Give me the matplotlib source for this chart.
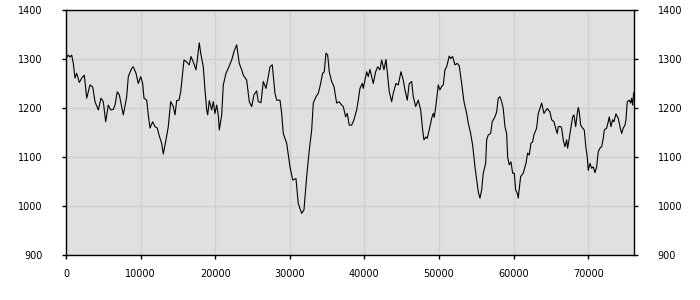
import matplotlib
matplotlib.use("Agg")
import matplotlib.pyplot as plt

x_vals = [0, 310, 536, 764, 980, 1206, 1434, 1783, 2104, 2453, 2775, 3217, 3579, 3887, 4330, 4692,
          5000, 5322, 5670, 5992, 6340, 6568, 6877, 7145, 7681, 8137, 8352, 8807, 9022, 9384, 9692,
          10014, 10282, 10456, 10818, 11032, 11260, 11622, 11930, 12238, 12506, 12828, 13043, 13405,
          13713, 14035, 14384, 14612, 14840, 15148, 15376, 15818, 16180, 16528, 16756, 17064, 17427,
          17601, 17869, 18057, 18405, 18633, 18861, 18995, 19210, 19531, 19746, 19974, 20202, 20416,
          20550, 20872, 21086, 21448, 21756, 22212, 22520, 22882, 23231, 23552, 23767, 24223, 24572,
          24894, 25202, 25564, 25778, 26140, 26449, 26810, 27119, 27347, 27655, 28017, 28245, 28687,
          28915, 29130, 29586, 30028, 30390, 30832, 31140, 31596, 31904, 32266, 32615, 32936, 33151,
          33513, 33821, 34049, 34411, 34625, 34853, 35081, 35295, 35617, 35925, 36287, 36595, 36957,
          37171, 37493, 37708, 37976, 38298, 38606, 38968, 39182, 39410, 39719, 39853, 40081, 40309,
          40523, 40751, 41193, 41515, 41783, 42091, 42319, 42627, 42896, 43070, 43338, 43660, 43874,
          44236, 44545, 44907, 45215, 45443, 45752, 46020, 46342, 46556, 46878, 47226, 47548, 47816,
          47990, 48258, 48432, 48794, 49022, 49237, 49371, 49599, 49907, 50135, 50363, 50577, 50805,
          51033, 51381, 51569, 51837, 52146, 52454, 52722, 53044, 53353, 53714, 53929, 54250, 54519,
          54827, 55055, 55270, 55498, 55726, 55940, 56262, 56396, 56611, 56932, 57147, 57509, 57737,
          57951, 58179, 58407, 58621, 58849, 59077, 59211, 59425, 59653, 59881, 60095, 60283, 60497,
          60631, 60953, 61301, 61663, 61891, 62106, 62334, 62562, 62736, 63098, 63313, 63541, 63769,
          64077, 64211, 64519, 64881, 65109, 65417, 65645, 65859, 65993, 66315, 66449, 66664, 66892,
          67120, 67254, 67468, 67696, 67924, 68098, 68330, 68545, 68679, 68813, 68999, 69267, 69482,
          69710, 69884, 70018, 70246, 70474, 70688, 70916, 71144, 71358, 71586, 71814, 72029, 72163,
          72485, 72699, 72833, 73061, 73289, 73463, 73731, 74039, 74268, 74496, 74710, 74939, 75073,
          75247, 75515, 75703, 75837, 75971, 76106]

y_vals = [1301, 1308, 1304, 1308, 1291, 1261, 1271, 1252, 1261, 1267, 1220, 1247, 1243, 1213, 1196, 1220,
          1213, 1172, 1206, 1196, 1197, 1206, 1233, 1227, 1186, 1223, 1264, 1281, 1284, 1271, 1250,
          1264, 1250, 1220, 1216, 1186, 1159, 1172, 1162, 1159, 1143, 1128, 1106, 1135,
          1162, 1213, 1203, 1186, 1215, 1216, 1233, 1298, 1294, 1288, 1305, 1294, 1278,
          1298, 1333, 1312, 1284, 1237, 1196, 1186, 1215, 1196, 1213, 1189, 1206, 1186,
          1155, 1186, 1247, 1271, 1281, 1298, 1315, 1329, 1291, 1278, 1267, 1257, 1213,
          1203, 1227, 1235, 1213, 1211, 1254, 1240, 1264, 1284, 1288, 1230, 1216, 1216,
          1189, 1148, 1128, 1080, 1053, 1056, 1005, 985, 992, 1060, 1114, 1155, 1210,
          1223, 1230, 1244, 1271, 1274, 1312, 1308, 1274, 1254, 1244, 1210, 1213, 1206,
          1203, 1182, 1189, 1165, 1165, 1176, 1196, 1216, 1240, 1250, 1240, 1257, 1274,
          1264, 1279, 1250, 1274, 1284, 1278, 1298, 1278, 1299, 1274, 1233, 1213, 1230,
          1250, 1247, 1274, 1257, 1237, 1216, 1250, 1254, 1223, 1203, 1216, 1196, 1155,
          1135, 1141, 1138, 1162, 1179, 1189, 1181, 1206, 1247, 1237, 1244, 1247, 1278,
          1284, 1306, 1301, 1305, 1288, 1291, 1286, 1250, 1213, 1189, 1169, 1148, 1124,
          1080, 1053, 1029, 1016, 1033, 1067, 1087, 1135, 1145, 1148, 1172, 1182, 1192,
          1220, 1223, 1213, 1199, 1162, 1148, 1100, 1084, 1090, 1067, 1067, 1033, 1026,
          1016, 1060, 1067, 1087, 1108, 1104, 1128, 1131, 1145, 1159, 1189, 1199, 1210,
          1189, 1192, 1199, 1192, 1176, 1172, 1159, 1148, 1162, 1162, 1159, 1135, 1121,
          1135, 1118, 1138, 1159, 1182, 1186, 1162, 1189, 1201, 1192, 1165, 1159, 1155,
          1118, 1100, 1073, 1087, 1077, 1080, 1068, 1080, 1111, 1118, 1121, 1138, 1155,
          1159, 1172, 1182, 1162, 1176, 1172, 1188, 1179, 1162, 1148, 1159, 1165, 1176,
          1213, 1216, 1210, 1220, 1206, 1231]

x_ticks = [0, 10000, 20000, 30000, 40000, 50000, 60000, 70000]
y_ticks = [900, 1000, 1100, 1200, 1300, 1400]

fig = plt.figure(figsize=(7, 3), dpi=100)
ax = fig.add_axes([66/700, 1 - 255/300, (634-66)/700, (255-10)/300])
ax.set_facecolor("#e0e0e0")
ax.plot(x_vals, y_vals, color="black", linewidth=0.8)
ax.set_xlim(0, 76150)
ax.set_ylim(900, 1400)
ax.set_xticks(x_ticks)
ax.set_yticks(y_ticks)
ax.grid(True, color="#d0d0d0", linewidth=1.0)
ax.set_axisbelow(True)
for s in ax.spines.values():
    s.set_color("black")
    s.set_linewidth(1.0)
ax.tick_params(axis="both", labelsize=7, length=3, width=1, color="black")
ax.tick_params(axis="y", left=True, right=True, labelleft=True, labelright=True, pad=14)
ax.tick_params(axis="x", pad=7)
fig.savefig("out.png", dpi=100)
